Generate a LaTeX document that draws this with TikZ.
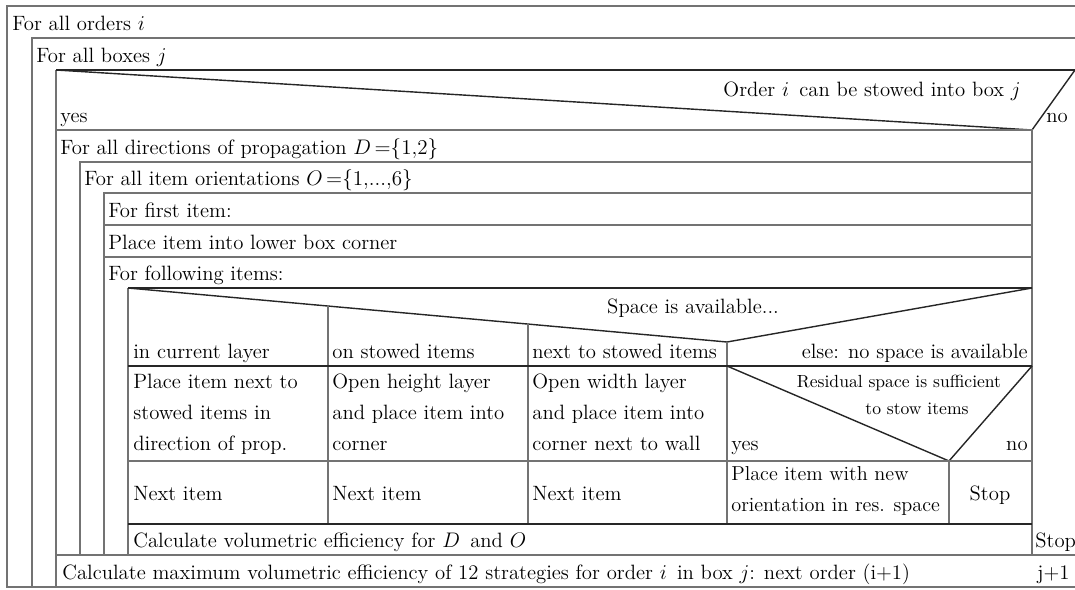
\documentclass[tikz,border=0pt]{standalone}
\usepackage{amsmath}
\colorlet{frame edge}{black!55}
\colorlet{case edge}{black!85}
\tikzset{
  cell/.style={draw=frame edge, line width=0.6pt},
  split/.style={draw=case edge, line width=0.8pt},
  txt/.style={anchor=base west, inner sep=0pt, font=\fontsize{11.8}{17.6}\selectfont},
  txtr/.style={txt, anchor=base east},
  txtc/.style={txt, anchor=base},
  lines/.style={txt, align=left, anchor=north west},
  smalltxt/.style={txtc, font=\fontsize{10}{12}\selectfont}
}

\begin{document}
\begin{tikzpicture}[x=0.02cm, y=-0.02cm]
    \useasboundingbox (0,0) rectangle (1075,589);
    \draw[cell] (1075,6) -- (7,6) -- (7,587) -- (1075,587);
    \draw[cell] (1075,38) -- (32,38) -- (32,587);
    \draw[cell] (56,70) -- (56,587);
    \draw[split] (56,70) -- (1075,70);
    \draw[split] (56,70) -- (1032,130) -- (1075,70);
    \draw[cell] (56,130) -- (1032,130) -- (1032,555);
    \draw[cell] (80,555) -- (80,162) -- (1032,162);
    \draw[cell] (104,555) -- (104,193) -- (1032,193);
    \draw[cell] (104,225) -- (1032,225);
    \draw[cell] (104,257) -- (1032,257);
    \draw[cell] (128,555) -- (128,288);
    \draw[split] (128,288) -- (1032,288);
    \draw[split] (128,288) -- (727,342) -- (1032,288);
    \draw[cell] (328,306) -- (328,524);
    \draw[cell] (528,324) -- (528,524);
    \draw[cell] (727,342) -- (727,524);
    \draw[split] (128,366) -- (1032,366);
    \draw[split] (727,366) -- (949,461) -- (1032,366);
    \draw[cell] (949,461) -- (949,524);
    \draw[cell] (128,461) -- (1032,461);
    \draw[split] (128,524) -- (1032,524);
    \draw[cell] (56,555) -- (1075,555);

    \node[txt] (orders) at (12,30) {For all orders $i$};
    \node[txt] (boxes) at (36,62) {For all boxes $j$};
    \node[txtr] (fits) at (1021,96) {Order $i$ \,can be stowed into box $j$};
    \node[txt] (fitsyes) at (60,122) {yes};
    \node[txt] (fitsno) at (1046,122) {no};
    \node[txt] (dirs) at (60,154) {For all directions of propagation $D\,{=}\{1{,}2\}$};
    \node[txt] (orient) at (84,185) {For all item orientations $O\,{=}\{1{,}...{,}6\}$};
    \node[txt] (first) at (108,217) {For first item:};
    \node[txt] (corner) at (108,249) {Place item into lower box corner};
    \node[txt] (follow) at (108,280) {For following items:};
    \node[txtc] (space) at (693,313) {Space is available...};
    \node[txt] (caseA) at (133,358) {in current layer};
    \node[txt] (caseB) at (332,358) {on stowed items};
    \node[txt] (caseC) at (532,358) {next to stowed items};
    \node[txtr] (caseD) at (1028,358) {else: no space is available};
    \node[lines] (doA) at (133,374) {Place item next to\\stowed items in\\direction of prop.};
    \node[lines] (doB) at (332,374) {Open height layer\\and place item into\\corner};
    \node[lines] (doC) at (532,374) {Open width layer\\and place item into\\corner next to wall};
    \node[smalltxt] (resid) at (899,387) {Residual space is sufficient};
    \node[smalltxt] (resid2) at (917,414) {to stow items};
    \node[txt] (residyes) at (731,450) {yes};
    \node[txtr] (residno) at (1028,450) {no};
    \node[txt] (nextA) at (133,500) {Next item};
    \node[txt] (nextB) at (332,500) {Next item};
    \node[txt] (nextC) at (532,500) {Next item};
    \node[lines, font=\fontsize{11.5}{17.6}\selectfont] (newor) at (731,466)
        {Place item with new\\orientation in res. space};
    \node[txtc] (stopA) at (990,500) {Stop};
    \node[txt] (effic) at (133,547) {Calculate volumetric efficiency for $D$ \,and $O$};
    \node[txt] (stopB) at (1035,547) {Stop};
    \node[txt] (maxeff) at (62,579) {Calculate maximum volumetric efficiency of 12 strategies for order $i$ \,in box $j$: next order (i+1)};
    \node[txt] (nextbox) at (1037,579) {j+1};
\end{tikzpicture}
\end{document}
